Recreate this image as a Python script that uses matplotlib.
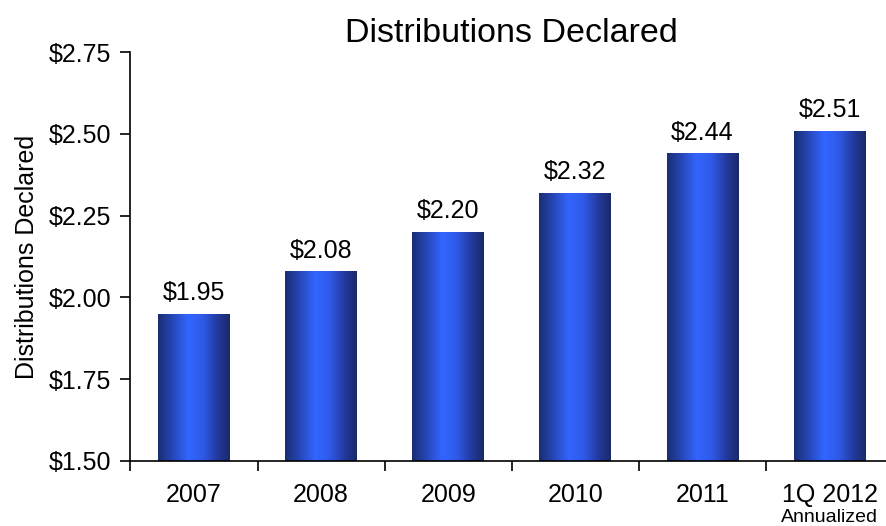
import numpy as np
import matplotlib.pyplot as plt
from matplotlib.colors import LinearSegmentedColormap

plt.rcParams['font.family'] = ['Liberation Sans', 'DejaVu Sans']

# Data
categories = ['2007', '2008', '2009', '2010', '2011', '1Q 2012']
values = [1.95, 2.08, 2.20, 2.32, 2.44, 2.51]
labels = ['$1.95', '$2.08', '$2.20', '$2.32', '$2.44', '$2.51']
yticks = [1.50, 1.75, 2.00, 2.25, 2.50, 2.75]

fig = plt.figure(figsize=(8.86, 5.26), dpi=100)
# axis runs slightly past the right edge of the figure
ax = fig.add_axes([0.1472, 0.1236, 0.861, 0.7775])

# horizontal shading for the cylinder-like bars
shade = LinearSegmentedColormap.from_list(
    'shade', [(0.0, '#1b2d72'), (0.18, '#2444b0'), (0.42, '#3366ff'),
              (0.62, '#2f5ae8'), (0.84, '#22389a'), (1.0, '#1a2a68')])
grad = np.linspace(0, 1, 256).reshape(1, -1)

x = np.arange(len(categories))
width = 0.566
ymin = 1.50
bars = ax.bar(x, np.array(values) - ymin, width, bottom=ymin, color='none', edgecolor='none')
for b, v, lab in zip(bars, values, labels):
    x0 = b.get_x()
    im = ax.imshow(grad, cmap=shade, aspect='auto',
                   extent=[x0, x0 + width, ymin, v], zorder=2)
    im.set_clip_path(b)
    ax.text(b.get_x() + width / 2, v + 0.026, lab, ha='center', va='bottom', fontsize=18)

ax.set_xlim(-0.5, len(categories) - 0.5)
ax.set_ylim(1.50, 2.75)
ax.set_yticks(yticks)
ax.set_yticklabels(['$%.2f' % t for t in yticks], fontsize=18)
ax.set_xticks(np.arange(len(categories) + 1) - 0.5)
ax.set_xticklabels([])
ax.set_xticks(x, minor=True)
ax.set_xticklabels(categories, minor=True, fontsize=18)
ax.tick_params(axis='x', which='minor', length=0, pad=16)
ax.tick_params(axis='x', which='major', length=7, width=1.2, direction='out')
ax.tick_params(axis='y', length=7, width=1.2, direction='out', pad=7)

ax.text(x[-1], -0.138, 'Annualized', transform=ax.get_xaxis_transform(),
        ha='center', va='center', fontsize=14)

for s in ['top', 'right']:
    ax.spines[s].set_visible(False)
ax.spines['left'].set_linewidth(1.2)
ax.spines['bottom'].set_linewidth(1.2)

ax.set_ylabel('Distributions Declared', fontsize=18, labelpad=7)
ax.set_title('Distributions Declared', fontsize=24.5, pad=7)

fig.savefig('out.png', dpi=100)
